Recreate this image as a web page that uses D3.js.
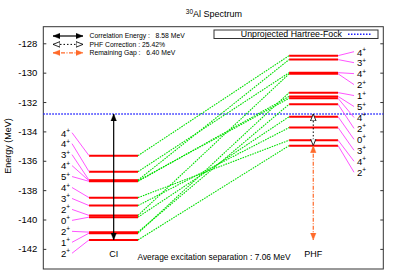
<!DOCTYPE html>
<html><head><meta charset="utf-8">
<script src="https://cdn.jsdelivr.net/npm/d3@7"></script>
<style>body{margin:0;background:#fff}svg{display:block;font-family:"Liberation Sans",Arial,sans-serif}</style>
</head><body><svg id="c" width="400" height="280"></svg>
<script>
// ---- data ----
const ciSpins  = ["4","4","3","4","5","4","3","2","0","2","1","2"];
const ciEnergy = [-135.65,-136.74,-137.32,-137.36,-137.40,-138.51,-139.05,-139.72,-139.84,-140.86,-140.93,-141.39];
const phfSpins  = ["4","3","4","2","1","5","4","2","0","3","4","2"];
const phfEnergy = [-128.84,-129.11,-130.00,-130.08,-131.36,-131.62,-131.75,-132.15,-133.00,-133.74,-134.60,-134.97];
const hfEnergy = -132.81;
const yTicks = [-128,-130,-132,-134,-136,-138,-140,-142];
const legendLabels = ["Correlation Energy :   8.58 MeV","PHF Correction : 25.42%","Remaining Gap :   6.40 MeV"];
const titleText = {sup:"30", main:"Al Spectrum"};
const avgText = "Average excitation separation : 7.06 MeV";

// ---- layout ----
const svg = d3.select("#c");
const L=43.3, R=383.3, T=26.7, B=269;
const y = d3.scaleLinear().domain([-143.37,-126.87]).range([B,T]);
const x = d3.scaleLinear().domain([0,10]).range([L,R]);
const ciX0=x(1.345), ciX1=x(2.786), phfX0=x(7.23), phfX1=x(8.67);
const ciArrowX=x(2.07), phfArrowX=x(7.94);
const orange="#ff6a2a", green="#00e000", mag="#ff55ff", red="#ff0000", blue="#2020ff";

const defs=svg.append("defs");
function marker(id,color,open){
  const m=defs.append("marker").attr("id",id).attr("viewBox","0 0 10 10").attr("refX",10).attr("refY",5)
    .attr("markerWidth",7).attr("markerHeight",7).attr("markerUnits","userSpaceOnUse").attr("orient","auto-start-reverse");
  m.append("path").attr("d","M0,1L10,5L0,9z").attr("fill",open?"#fff":color).attr("stroke",color).attr("stroke-width",open?1.2:0.5);
}
marker("ab","#000",false);
marker("ad","#000",true);
marker("ao",orange,false);

// axes frame
svg.append("rect").attr("x",L).attr("y",T).attr("width",R-L).attr("height",B-T).attr("fill","none").attr("stroke","#333").attr("stroke-width",1);
const yl = d3.axisLeft(y).tickValues(yTicks).tickSize(-3).tickFormat(d=>String(d));
const gl = svg.append("g").attr("transform",`translate(${L},0)`).call(yl);
gl.select(".domain").remove();
gl.selectAll("text").attr("x",-6).attr("font-size",9.5).attr("font-family","Liberation Sans, Arial").attr("fill","#000");
gl.selectAll("line").attr("stroke","#333");
const yr = d3.axisRight(y).tickValues(yTicks).tickSize(-3).tickFormat("");
const gr = svg.append("g").attr("transform",`translate(${R},0)`).call(yr);
gr.select(".domain").remove();
gr.selectAll("line").attr("stroke","#333");

// title
const tt=svg.append("text").attr("x",214).attr("y",17).attr("text-anchor","middle").attr("font-size",9);
tt.append("tspan").attr("font-size",6.5).attr("dy",-3).text(titleText.sup);
tt.append("tspan").attr("dy",3).text(titleText.main);

// y label
svg.append("text").attr("transform","translate(11,146) rotate(-90)").attr("text-anchor","middle").attr("font-size",9).text("Energy (MeV)");

// HF line
svg.append("line").attr("x1",L).attr("x2",R).attr("y1",y(hfEnergy)).attr("y2",y(hfEnergy))
  .attr("stroke",blue).attr("stroke-width",1.5).attr("stroke-dasharray","1.5,1.5");

// green connections
const spinsSet = Array.from(new Set(ciSpins));
const links=[];
spinsSet.forEach(s=>{
  const ci=ciEnergy.filter((e,i)=>ciSpins[i]===s);
  const ph=phfEnergy.filter((e,i)=>phfSpins[i]===s);
  ci.forEach((e,k)=>{ if(k<ph.length) links.push([e,ph[k]]); });
});
svg.append("g").selectAll("line").data(links).join("line")
  .attr("x1",ciX1).attr("x2",phfX0).attr("y1",d=>y(d[0])).attr("y2",d=>y(d[1]))
  .attr("stroke",green).attr("stroke-width",1.1).attr("stroke-dasharray","1.6,1");

// levels
svg.append("g").selectAll("line").data(ciEnergy).join("line")
  .attr("x1",ciX0).attr("x2",ciX1).attr("y1",d=>y(d)).attr("y2",d=>y(d)).attr("stroke",red).attr("stroke-width",2);
svg.append("g").selectAll("line").data(phfEnergy).join("line")
  .attr("x1",phfX0).attr("x2",phfX1).attr("y1",d=>y(d)).attr("y2",d=>y(d)).attr("stroke",red).attr("stroke-width",2);

// labels
const lblStep=10.96;
function drawLabels(spins,energies,side){
  const top = side==="L"?132.7:51.7;
  const g=svg.append("g");
  spins.forEach((s,i)=>{
    const ly=top+i*lblStep;
    if(side==="L"){
      g.append("line").attr("x1",72).attr("y1",ly).attr("x2",ciX0).attr("y2",y(energies[i])).attr("stroke",mag).attr("stroke-width",1);
      const t=g.append("text").attr("x",61).attr("y",ly+3.8).attr("font-size",9.5);
      t.append("tspan").text(s);
      t.append("tspan").attr("font-size",6.5).attr("dy",-3.8).text("+");
    } else {
      g.append("line").attr("x1",phfX1).attr("y1",y(energies[i])).attr("x2",354).attr("y2",ly).attr("stroke",mag).attr("stroke-width",1);
      const t=g.append("text").attr("x",357).attr("y",ly+3.8).attr("font-size",9.5);
      t.append("tspan").text(s);
      t.append("tspan").attr("font-size",6.5).attr("dy",-3.8).text("+");
    }
  });
}
drawLabels(ciSpins,ciEnergy,"L");
drawLabels(phfSpins,phfEnergy,"R");

// arrows
const ciGround=d3.min(ciEnergy), phfGround=d3.min(phfEnergy);
svg.append("line").attr("x1",ciArrowX).attr("x2",ciArrowX).attr("y1",y(hfEnergy)).attr("y2",y(ciGround))
  .attr("stroke","#000").attr("stroke-width",1.2).attr("marker-start","url(#ab)").attr("marker-end","url(#ab)");
svg.append("line").attr("x1",phfArrowX).attr("x2",phfArrowX).attr("y1",y(hfEnergy)).attr("y2",y(phfGround))
  .attr("stroke","#000").attr("stroke-width",1).attr("stroke-dasharray","1.5,2").attr("marker-start","url(#ad)").attr("marker-end","url(#ad)");
svg.append("line").attr("x1",phfArrowX).attr("x2",phfArrowX).attr("y1",y(phfGround)).attr("y2",y(ciGround))
  .attr("stroke",orange).attr("stroke-width",1.2).attr("stroke-dasharray","4,1.5,1,1.5").attr("marker-start","url(#ao)").attr("marker-end","url(#ao)");

// column labels
svg.append("text").attr("x",ciArrowX).attr("y",257).attr("text-anchor","middle").attr("font-size",9).text("CI");
svg.append("text").attr("x",phfArrowX).attr("y",257).attr("text-anchor","middle").attr("font-size",9).text("PHF");
svg.append("text").attr("x",214).attr("y",260).attr("text-anchor","middle").attr("font-size",8.4).text(avgText);

// legend left
const legStyles=[
  {c:"#000",d:null,m:"ab",w:1.2},
  {c:"#000",d:"1.5,2",m:"ad",w:1},
  {c:orange,d:"4,1.5,1,1.5",m:"ao",w:1.2}];
legendLabels.forEach((t,i)=>{
  const ly=36+i*8.4;
  svg.append("line").attr("x1",53).attr("x2",83).attr("y1",ly).attr("y2",ly).attr("stroke",legStyles[i].c).attr("stroke-width",legStyles[i].w)
    .attr("stroke-dasharray",legStyles[i].d).attr("marker-start",`url(#${legStyles[i].m})`).attr("marker-end",`url(#${legStyles[i].m})`);
  svg.append("text").attr("x",89.5).attr("y",ly+2.3).attr("font-size",6.8).style("white-space","pre").text(t);
});

// legend right
svg.append("rect").attr("x",214).attr("y",30).attr("width",164).attr("height",8.5).attr("fill","#fff").attr("stroke","#333").attr("stroke-width",1);
svg.append("text").attr("x",342).attr("y",37.3).attr("text-anchor","end").attr("font-size",8.8).text("Unprojected Hartree-Fock");
svg.append("line").attr("x1",348).attr("x2",371).attr("y1",34.2).attr("y2",34.2).attr("stroke",blue).attr("stroke-width",1.5).attr("stroke-dasharray","1.5,1.5");
</script></body></html>
